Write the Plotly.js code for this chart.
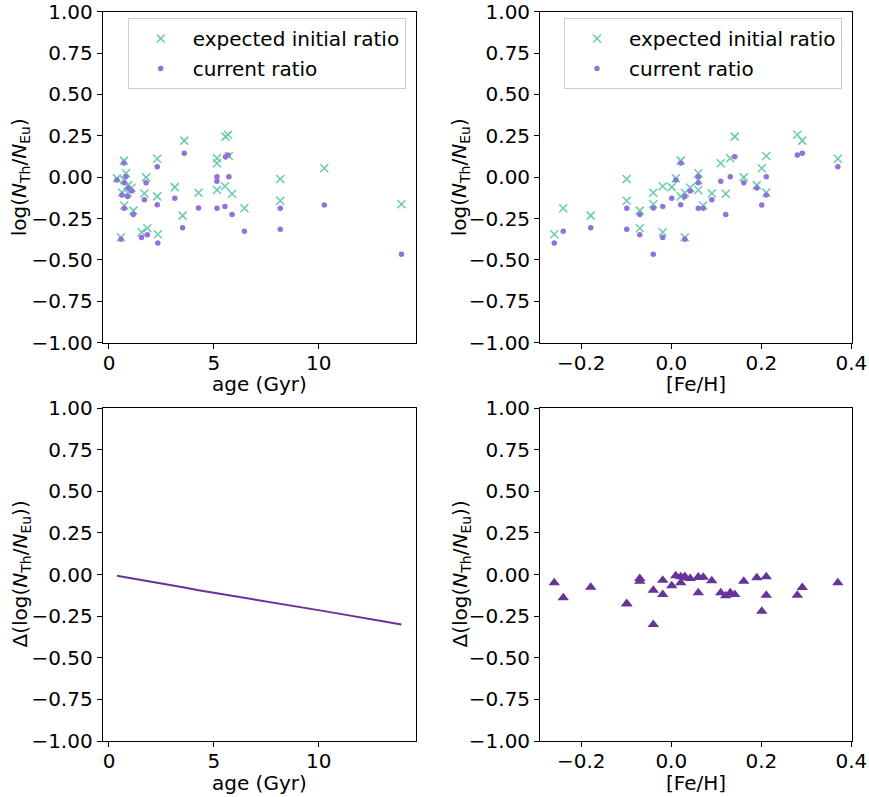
<!DOCTYPE html>
<html><head><meta charset="utf-8">
<script src="https://cdn.plot.ly/plotly-3.0.1.min.js"></script>
<style>html,body{margin:0;padding:0;background:#fff;} #chart{width:869px;height:797px;}</style>
</head><body><div id="chart"></div>
<script>
// one entry per star
const ageGyr = [2.33, 6.46, 3.51, 8.17, 8.17, 1.16, 1.83, 4.27, 13.95, 5.53, 1.55, 3.14, 0.38, 0.71, 2.30, 0.89, 0.57, 1.08, 0.81, 0.73, 5.15, 0.73, 1.69, 5.15, 5.87, 5.15, 5.56, 1.77, 0.92, 10.27, 5.72, 0.62, 5.68, 3.59, 2.30];
const feH = [-0.26, -0.24, -0.179, -0.099, -0.099, -0.070, -0.070, -0.040, -0.040, -0.019, -0.019, 0.001, 0.010, 0.021, 0.021, 0.030, 0.030, 0.042, 0.060, 0.060, 0.060, 0.071, 0.090, 0.110, 0.121, 0.131, 0.141, 0.161, 0.190, 0.201, 0.211, 0.211, 0.280, 0.291, 0.370];
const initialRatio = [-0.345, -0.188, -0.232, -0.011, -0.142, -0.202, -0.309, -0.094, -0.163, -0.055, -0.333, -0.060, -0.007, 0.100, -0.116, -0.094, -0.363, -0.064, 0.024, -0.018, -0.077, -0.171, -0.099, 0.084, -0.100, 0.114, 0.245, -0.001, -0.048, 0.054, 0.128, -0.092, 0.257, 0.221, 0.112];
const currentRatio = [-0.398, -0.327, -0.305, -0.187, -0.315, -0.226, -0.348, -0.186, -0.466, -0.177, -0.365, -0.127, -0.017, 0.086, -0.167, -0.116, -0.375, -0.083, 0.004, -0.033, -0.187, -0.187, -0.137, -0.025, -0.226, 0.002, 0.124, -0.034, -0.066, -0.168, 0.003, -0.107, 0.134, 0.144, 0.063];
const deltaRatio = [-0.050, -0.140, -0.076, -0.176, -0.176, -0.024, -0.040, -0.094, -0.300, -0.120, -0.034, -0.068, -0.008, -0.014, -0.050, -0.019, -0.012, -0.024, -0.016, -0.016, -0.110, -0.016, -0.038, -0.110, -0.128, -0.110, -0.120, -0.040, -0.020, -0.220, -0.124, -0.013, -0.124, -0.078, -0.050];

const yTicks = [-1, -0.75, -0.5, -0.25, 0, 0.25, 0.5, 0.75, 1];
const ageTicks = [0, 5, 10];
const fehTicks = [-0.2, 0.0, 0.2, 0.4];

const legendLabels = ['expected initial ratio', 'current ratio'];
const xTitles = ['age (Gyr)', '[Fe/H]'];
const yTitleTop = 'log(<i>N</i><sub>Th</sub>/<i>N</i><sub>Eu</sub>)';
const yTitleBottom = 'Δ(log(<i>N</i><sub>Th</sub>/<i>N</i><sub>Eu</sub>))';

const GREEN = '#66CDAA', PURPLE = '#9370DB', DARK = '#663399';
const FONT = 'DejaVu Sans, Liberation Sans, sans-serif';
const FS = 20;

// line in lower-left panel: points ordered by age
const order = ageGyr.map((a, i) => i).sort((a, b) => ageGyr[a] - ageGyr[b]);
const lineAge = order.map(i => ageGyr[i]);
const lineDelta = order.map(i => deltaRatio[i]);

const xMarker = {symbol: 'x-thin', size: 8, color: GREEN, line: {color: GREEN, width: 1.5}};
const dotMarker = {symbol: 'circle', size: 5.5, color: PURPLE, line: {width: 0}};

const traces = [
  {x: ageGyr, y: initialRatio, xaxis: 'x', yaxis: 'y', mode: 'markers', type: 'scatter', name: legendLabels[0], marker: xMarker, legend: 'legend', legendgroup: 'a'},
  {x: ageGyr, y: currentRatio, xaxis: 'x', yaxis: 'y', mode: 'markers', type: 'scatter', name: legendLabels[1], marker: dotMarker, legend: 'legend', legendgroup: 'b'},
  {x: feH, y: initialRatio, xaxis: 'x2', yaxis: 'y2', mode: 'markers', type: 'scatter', name: legendLabels[0], marker: xMarker, legend: 'legend2', legendgroup: 'c'},
  {x: feH, y: currentRatio, xaxis: 'x2', yaxis: 'y2', mode: 'markers', type: 'scatter', name: legendLabels[1], marker: dotMarker, legend: 'legend2', legendgroup: 'd'},
  {x: lineAge, y: lineDelta, xaxis: 'x3', yaxis: 'y3', mode: 'lines', type: 'scatter', line: {color: DARK, width: 2}, showlegend: false},
  {x: feH, y: deltaRatio, xaxis: 'x4', yaxis: 'y4', mode: 'markers', type: 'scatter', marker: {symbol: 'triangle-up', size: 10, color: DARK, line: {width: 0}}, showlegend: false}
];

function axBase() {
  return {
    showline: true, mirror: true, linecolor: '#000', linewidth: 1,
    ticks: 'outside', ticklen: 5, tickwidth: 1, tickcolor: '#000',
    showgrid: false, zeroline: false, automargin: false,
    ticklabeloverflow: 'allow',
    tickfont: {family: FONT, size: FS, color: '#000'}
  };
}
function xAx(domain, range, ticks, fmt, anchor) {
  return Object.assign(axBase(), {domain, range, tickvals: ticks, tickformat: fmt, anchor, ticklabelstandoff: -3});
}
function yAx(domain, anchor) {
  return Object.assign(axBase(), {domain, range: [-1, 1], tickvals: yTicks, tickformat: '.2f', anchor});
}

const W = 869, H = 797;
const colL = [102.7 / W, 415.7 / W];
const colR = [540.1 / W, 852.0 / W];
const rowT = [(H - 342.7) / H, (H - 11.7) / H];
const rowB = [(H - 741) / H, (H - 408) / H];
const ageRange = [-0.30, 14.63];
const fehRange = [-0.2915, 0.4015];

const legendStyle = (xr) => ({
  x: xr, xanchor: 'right', y: (H - 18) / H, yanchor: 'top',
  bgcolor: 'rgba(255,255,255,0.8)', bordercolor: '#cccccc', borderwidth: 1,
  font: {family: FONT, size: FS, color: '#000'}, itemwidth: 54,
  traceorder: 'grouped', tracegroupgap: 1
});

// axis titles placed as paper annotations
const titleFont = {family: FONT, size: FS, color: '#000'};
function xTitle(text, colDomain, yPx) {
  return {text, xref: 'paper', yref: 'paper', x: (colDomain[0] + colDomain[1]) / 2, y: (H - yPx) / H,
    xanchor: 'center', yanchor: 'middle', showarrow: false, font: titleFont};
}
function yTitle(text, xPx, rowDomain) {
  return {text, xref: 'paper', yref: 'paper', x: xPx / W, y: (rowDomain[0] + rowDomain[1]) / 2,
    xanchor: 'center', yanchor: 'middle', textangle: -90, showarrow: false, font: titleFont};
}

const layout = {
  width: W, height: H,
  margin: {l: 0, r: 0, t: 0, b: 0},
  paper_bgcolor: '#fff', plot_bgcolor: '#fff',
  font: {family: FONT, size: FS, color: '#000'},
  xaxis: xAx(colL, ageRange, ageTicks, 'd', 'y'),
  yaxis: yAx(rowT, 'x'),
  xaxis2: xAx(colR, fehRange, fehTicks, '.1f', 'y2'),
  yaxis2: yAx(rowT, 'x2'),
  xaxis3: xAx(colL, ageRange, ageTicks, 'd', 'y3'),
  yaxis3: yAx(rowB, 'x3'),
  xaxis4: xAx(colR, fehRange, fehTicks, '.1f', 'y4'),
  yaxis4: yAx(rowB, 'x4'),
  legend: legendStyle(405.7 / W),
  legend2: legendStyle(842 / W),
  showlegend: true,
  annotations: [
    xTitle(xTitles[0], colL, 384),
    xTitle(xTitles[1], colR, 384),
    xTitle(xTitles[0], colL, 783),
    xTitle(xTitles[1], colR, 783),
    yTitle(yTitleTop, 20, rowT),
    yTitle(yTitleTop, 460, rowT),
    yTitle(yTitleBottom, 20, rowB),
    yTitle(yTitleBottom, 460, rowB)
  ]
};

Plotly.newPlot('chart', traces, layout, {staticPlot: true, displayModeBar: false});
</script>
</body></html>
